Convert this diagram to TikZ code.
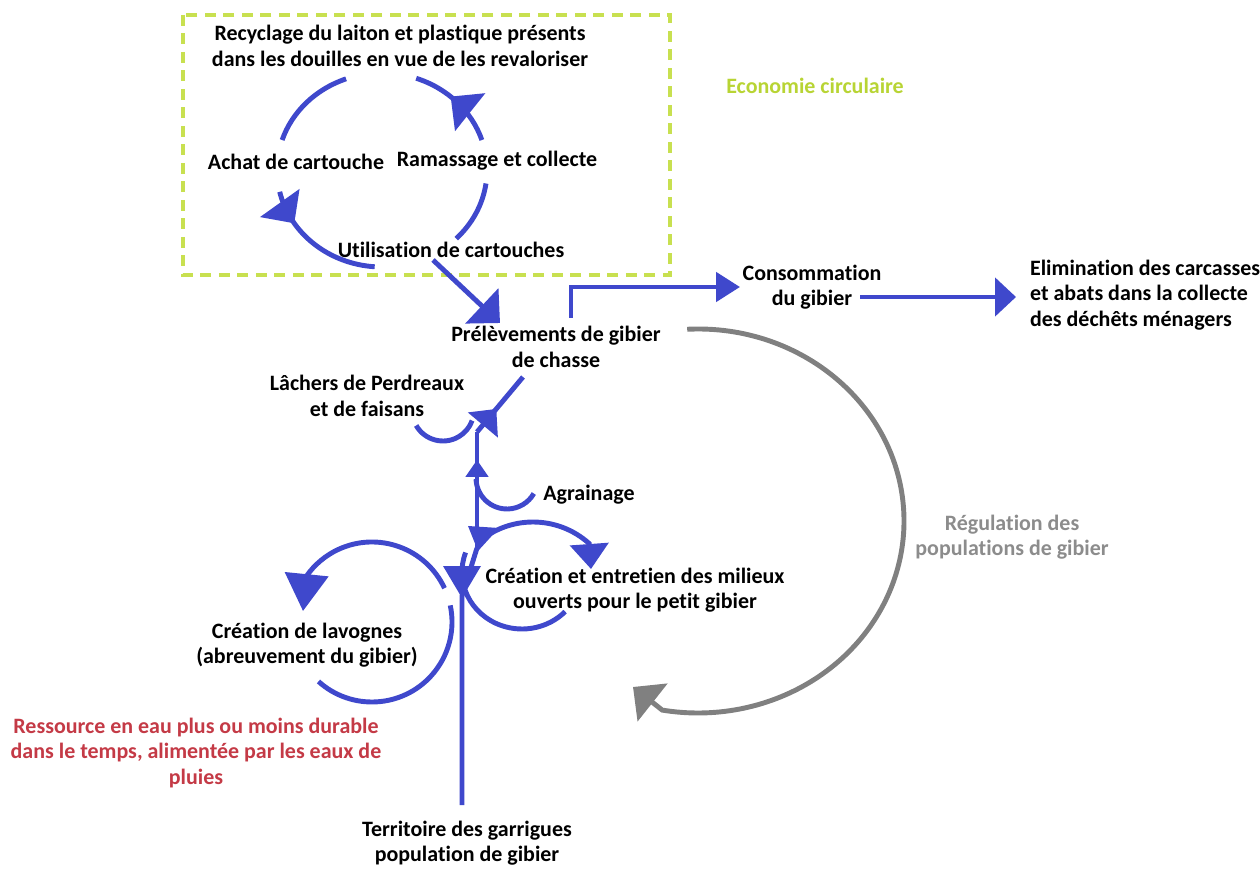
\documentclass[tikz,border=0pt]{standalone}
\usepackage{fontspec}
\setmainfont{Carlito}[Ligatures={NoCommon,NoContextual,NoRequired}]
\usepackage{tikz}
\usetikzlibrary{arrows.meta, decorations.markings, positioning}
\definecolor{BB}{RGB}{63, 72, 204}
\definecolor{GG}{RGB}{128, 128, 128}
\definecolor{GT}{RGB}{140, 140, 140}
\definecolor{LL}{RGB}{200, 224, 80}
\definecolor{LT}{RGB}{184, 212, 52}
\definecolor{RR}{RGB}{196, 58, 70}
\tikzset{
    flow/.style={line width=2.8pt, color=BB},
    regflow/.style={line width=2.8pt, color=GG},
    bigtip/.style={-{Triangle[length=0.5cm, width=0.95cm]}},
    midtip/.style={postaction={decorate}, decoration={markings,
        mark=at position #1 with {\arrow{Triangle[length=0.5cm, width=0.95cm]}}}},
    smalltip/.style={postaction={decorate}, decoration={markings,
        mark=at position #1 with {\arrow{Triangle[length=0.34cm, width=0.44cm]}}}},
}

\begin{document}
\begin{tikzpicture}[
  x=0.02cm, y=-0.02cm, % 1 unite = 1 pixel de l'image
  every node/.style={font=\fontsize{12.5}{14.5}\selectfont\bfseries, align=center, inner sep=1pt},
  ]
\useasboundingbox (0,0) rectangle (1260,884);

% boucle de l'economie circulaire
\coordinate (box1) at (183,15);
\coordinate (box2) at (670,275);
\draw[LL, line width=2.2pt, dash pattern=on 0.22cm off 0.15cm] (box1) rectangle (box2);
\node[text=LT] (eco) at (815,86) {Economie circulaire};

\node (rec) at (400,46) {Recyclage du laiton et plastique présents\\dans les douilles en vue de les revaloriser};
\node (achat) at (296,162) {Achat de cartouche};
\node (ramas) at (497,161) {Ramassage et collecte};
\node (util) at (451,250) {Utilisation de cartouches};

\coordinate (cyc) at (382,170);
\draw[flow] (cyc) ++(250:105 and 97) arc[start angle=250, end angle=198, x radius=105, y radius=97];
\draw[flow, midtip=0.27] (cyc) ++(167:105 and 97) arc[start angle=167, end angle=94, x radius=105, y radius=97];
\draw[flow] (cyc) ++(45:105 and 97) arc[start angle=45, end angle=8, x radius=105, y radius=97];
\draw[flow, midtip=0.58] (cyc) ++(-18:105 and 97) arc[start angle=-18, end angle=-71, x radius=105, y radius=97];

% prelevements et suites
\node (prel) at (556,347) {Prélèvements de gibier\\de chasse};
\node (conso) at (812,287) {Consommation\\du gibier};
\node[anchor=west, align=left] (elim) at (1028,295) {Elimination des carcasses\\et abats dans la collecte\\des déchêts ménagers};

\coordinate (u1) at (433,260);
\coordinate (u2) at (500,323);
\draw[flow, bigtip] (u1) -- (u2);

\coordinate (p1) at (571,318);
\coordinate (c1) at (740,287);
\draw[flow, -{Triangle[length=0.48cm, width=0.58cm]}] (p1) |- (c1);

\coordinate (c2) at (860,297);
\coordinate (e1) at (1016,297);
\draw[flow, -{Triangle[length=0.42cm, width=0.76cm]}] (c2) -- (e1);

% regulation
\node[text=GT] (regu) at (1012,537) {Régulation des\\populations de gibier};
\coordinate (reg) at (698,521);
\coordinate (g1) at (633,687);
\draw[regflow, bigtip] (reg) ++(-93:206 and 192) arc[start angle=-93, end angle=100, x radius=206, y radius=192] -- (g1);

% tige centrale
\node (terr) at (467,843) {Territoire des garrigues\\population de gibier};
\node (lach) at (367,396) {Lâchers de Perdreaux\\et de faisans};
\node (agr) at (589,495) {Agrainage};
\node (crea) at (635,590) {Création et entretien des milieux\\ouverts pour le petit gibier};
\node (lavo) at (307,645) {Création de lavognes\\(abreuvement du gibier)};
\node[text=RR] (ress) at (196,753) {Ressource en eau plus ou moins durable\\dans le temps, alimentée par les eaux de\\pluies};

\coordinate (t0) at (462,805);
\coordinate (j1) at (462,596);
\coordinate (j2) at (477,548);
\coordinate (j3) at (477,432);
\coordinate (p2) at (523,377);
\draw[flow, line join=round] (t0) -- (j1) -- (j2);
\draw[flow, smalltip=0.76] (j2) -- (j3);
\draw[flow, postaction={decorate}, decoration={markings,
    mark=at position 0.42 with {\arrow{Triangle[length=0.42cm, width=0.76cm]}}}] (j3) -- (p2);
\fill[BB] (443,566) -- (481,566) -- (462,598) -- cycle;
\fill[BB] (468,526) -- (499,528) -- (478,551) -- cycle;

% lachers
\coordinate (lachC) at (443,410);
\draw[flow] (lachC) ++(150:31) arc[start angle=150, end angle=20, radius=31];

% agrainage
\coordinate (agrC) at (507,478);
\draw[flow] (agrC) ++(178:31) arc[start angle=178, end angle=30, radius=31];

% milieux ouverts
\coordinate (creaC) at (533,606);
\coordinate (cr1) at (591,569);
\draw[flow, -{Triangle[length=0.5cm, width=0.76cm]}] (creaC) ++(-132:84) arc[start angle=-132, end angle=-48, radius=84] -- (cr1);
\coordinate (creaD) at (522,572);
\draw[flow] (creaD) ++(-160:60 and 57) arc[start angle=-160, end angle=-316, x radius=60, y radius=57];

% lavognes
\coordinate (lavC) at (372,622);
\coordinate (lv1) at (303,611);
\draw[flow, -{Triangle[length=0.74cm, width=0.86cm]}] (lavC) ++(-25:80) arc[start angle=-25, end angle=-145, radius=80] -- (lv1);
\draw[flow] (lavC) ++(132:80) arc[start angle=132, end angle=-12, radius=80];

\end{tikzpicture}
\end{document}
